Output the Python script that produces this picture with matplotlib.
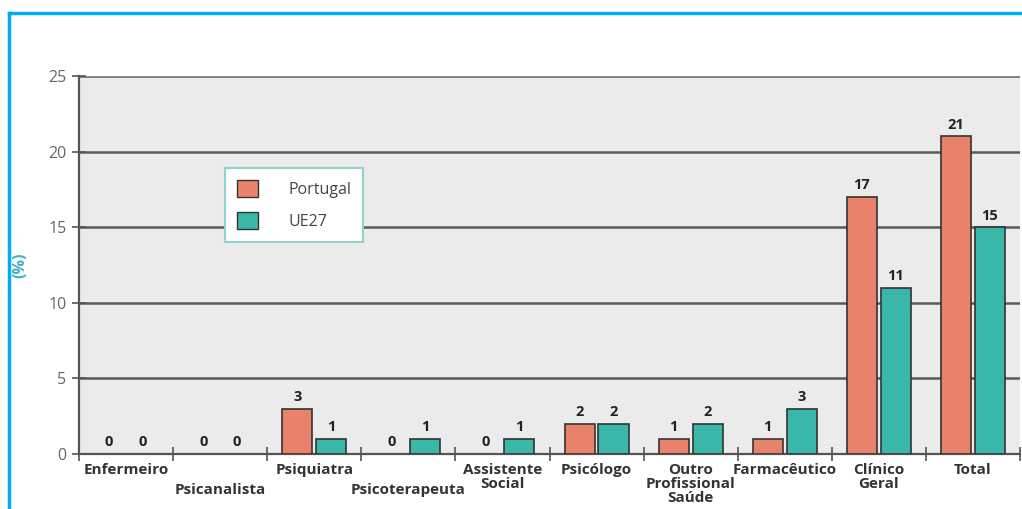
import matplotlib
matplotlib.use("Agg")
import matplotlib.pyplot as plt
import numpy as np
from matplotlib.lines import Line2D
from matplotlib.patches import Patch

categories = ["Enfermeiro", "Psicanalista", "Psiquiatra", "Psicoterapeuta", "Assistente\nSocial",
              "Psicólogo", "Outro\nProfissional\nSaúde", "Farmacêutico", "Clínico\nGeral", "Total"]
portugal = [0, 0, 3, 0, 0, 2, 1, 1, 17, 21]
ue27 = [0, 0, 1, 1, 1, 2, 2, 3, 11, 15]
series_names = ["Portugal", "UE27"]
yticks = [0, 5, 10, 15, 20, 25]

c_pt = "#E8826A"
c_ue = "#39B8AA"
edge = "#333333"
plt.rcParams['font.family'] = ['Open Sans', 'DejaVu Sans']

fig = plt.figure(figsize=(10.22, 5.09), dpi=100)
ax = fig.add_axes([79/1022, 1-454/509, (1020-79)/1022, (454-76)/509])
ax.set_facecolor("#EBEBEB")

x = np.arange(len(categories))
w = 0.32
gap = 0.02
b1 = ax.bar(x - w/2 - gap, portugal, w, color=c_pt, edgecolor=edge,
            linewidth=[1.2 if v > 0 else 0 for v in portugal], zorder=3)
b2 = ax.bar(x + w/2 + gap, ue27, w, color=c_ue, edgecolor=edge,
            linewidth=[1.2 if v > 0 else 0 for v in ue27], zorder=3)
for bars, vals in ((b1, portugal), (b2, ue27)):
    for r, v in zip(bars, vals):
        ax.text(r.get_x() + r.get_width()/2, v + 0.3, str(v), ha="center", va="bottom",
                fontsize=10.5, fontweight="bold", color="#222222", zorder=4)

ax.set_xlim(-0.5, len(categories) - 0.5)
ax.set_ylim(0, 25)
ax.set_yticks(yticks)
ax.set_yticklabels([str(t) for t in yticks], color="#666666", fontsize=11.5)
for t in yticks[1:]:
    ax.axhline(t, color="#5a5a5a", linewidth=1.8, zorder=1)
ax.axhline(25, color="#888888", linewidth=1.6, zorder=1)
ax.tick_params(axis="y", direction="inout", length=10, width=1.2, color="#555555", pad=4)

ax.set_xticks(np.arange(len(categories) + 1) - 0.5, minor=False)
ax.set_xticklabels([])
ax.tick_params(axis="x", direction="inout", length=10, width=1.2, color="#555555")
for i, c in enumerate(categories):
    yoff = -0.053 if i in (1, 3) else 0.0
    ax.text(i, -0.024 + yoff, c, transform=ax.get_xaxis_transform(), ha="center", va="top",
            fontsize=11, fontweight="bold", color="#333333", linespacing=0.98)

for s in ["top", "right"]:
    ax.spines[s].set_visible(False)
ax.spines["left"].set_color("#555555")
ax.spines["left"].set_linewidth(1.6)
ax.spines["bottom"].set_color("#555555")
ax.spines["bottom"].set_linewidth(1.6)

ax.set_ylabel("(%)", color="#3AAFC9", fontweight="bold", fontsize=11.5, labelpad=14)

handles = [Patch(facecolor=c_pt, edgecolor=edge, label=series_names[0]),
           Patch(facecolor=c_ue, edgecolor=edge, label=series_names[1])]
leg = ax.legend(handles=handles, loc="upper left", bbox_to_anchor=((225-79)/941, 1-(168-76)/378),
                frameon=True, fancybox=False, fontsize=11.5, handlelength=1.3, handleheight=1.3,
                borderpad=0.75, labelspacing=0.85, handletextpad=1.9, borderaxespad=0)
leg.get_frame().set_edgecolor("#8FD3CC")
leg.get_frame().set_linewidth(1.5)
leg.get_frame().set_facecolor("white")
leg.get_frame().set_alpha(1)
for t in leg.get_texts():
    t.set_color("#444444")

# blue frame
fig.add_artist(Line2D([9/1022, 9/1022], [0, 1-13/509], transform=fig.transFigure, color="#00AEEF", linewidth=2.5))
fig.add_artist(Line2D([9/1022, 1], [1-13/509, 1-13/509], transform=fig.transFigure, color="#00AEEF", linewidth=2.5))

fig.savefig("out.png", dpi=100)
